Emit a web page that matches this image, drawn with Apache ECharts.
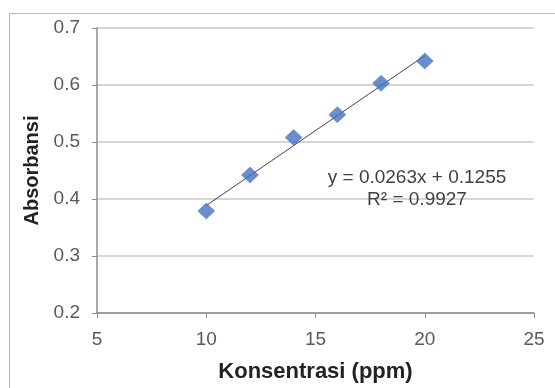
<!DOCTYPE html>
<html>
<head>
<meta charset="utf-8">
<script src="https://cdn.jsdelivr.net/npm/echarts@6/dist/echarts.min.js"></script>
<style>
  html, body { margin: 0; padding: 0; background: #fff; }
  #chart { width: 555px; height: 388px; }
</style>
</head>
<body>
<div id="chart"></div>
<script>
// measured points (ppm vs absorbance)
const konsentrasi = [10, 12, 14, 16, 18, 20]
const absorbansi = [0.379, 0.442, 0.508, 0.548, 0.603, 0.642]

// linear trendline end points, y = 0.0263x + 0.1255
const trendX = [10, 20]
const trendY = [0.3885, 0.6515]

const xTicks = [5, 10, 15, 20, 25]
const yTicks = [0.2, 0.3, 0.4, 0.5, 0.6, 0.7]

const equationText = 'y = 0.0263x + 0.1255'
const r2Text = 'R² = 0.9927'

const FONT = '"Liberation Sans", Arial, sans-serif'
const chart = echarts.init(document.getElementById('chart'), null, { renderer: 'canvas' })

const option = {
  animation: false,
  backgroundColor: '#fff',
  grid: { left: 97, right: 21, top: 28, bottom: 75 },
  graphic: [
    {
      type: 'rect',
      shape: { x: 9.5, y: 13.5, width: 560, height: 390 },
      style: { fill: 'none', stroke: '#b8b8b8', lineWidth: 1 },
      silent: true,
    },
    {
      type: 'text',
      style: {
        text: equationText,
        x: 417, y: 178,
        align: 'center', verticalAlign: 'middle',
        font: '19px ' + FONT, fill: '#404040',
      },
      z: 10,
    },
    {
      type: 'text',
      style: {
        text: r2Text,
        x: 417, y: 200,
        align: 'center', verticalAlign: 'middle',
        font: '19px ' + FONT, fill: '#404040',
      },
      z: 10,
    },
  ],
  xAxis: {
    type: 'value',
    min: xTicks[0],
    max: xTicks[xTicks.length - 1],
    interval: 5,
    name: 'Konsentrasi (ppm)',
    nameLocation: 'middle',
    nameGap: 48,
    nameTextStyle: { fontFamily: FONT, fontWeight: 'bold', fontSize: 22, color: '#222' },
    axisLine: { lineStyle: { color: '#8c8c8c', width: 1.5 } },
    axisTick: { show: true, length: 5, lineStyle: { color: '#8c8c8c' } },
    axisLabel: { fontFamily: FONT, fontSize: 19, color: '#595959', margin: 17 },
    splitLine: { show: false },
  },
  yAxis: {
    type: 'value',
    min: yTicks[0],
    max: yTicks[yTicks.length - 1],
    interval: 0.1,
    name: 'Absorbansi',
    nameLocation: 'middle',
    nameGap: 55,
    nameTextStyle: { fontFamily: FONT, fontWeight: 'bold', fontSize: 20, color: '#222' },
    axisLine: { show: true, lineStyle: { color: '#8c8c8c', width: 1.5 } },
    axisTick: { show: true, length: 5, lineStyle: { color: '#8c8c8c' } },
    axisLabel: {
      fontFamily: FONT, fontSize: 19, color: '#595959', margin: 17,
      formatter: v => v.toFixed(1),
    },
    splitLine: { show: true, lineStyle: { color: '#c9c9c9', width: 1.5 } },
  },
  series: [
    {
      type: 'line',
      data: trendX.map((x, i) => [x, trendY[i]]),
      showSymbol: false,
      lineStyle: { color: '#444', width: 1 },
      z: 2,
    },
    {
      type: 'scatter',
      data: konsentrasi.map((x, i) => [x, absorbansi[i]]),
      symbol: 'diamond',
      symbolSize: [17, 16],
      itemStyle: { color: '#4472c4', borderColor: '#3a64b0', borderWidth: 0.5 },
      z: 3,
    },
  ],
}

chart.setOption(option)
</script>
</body>
</html>
